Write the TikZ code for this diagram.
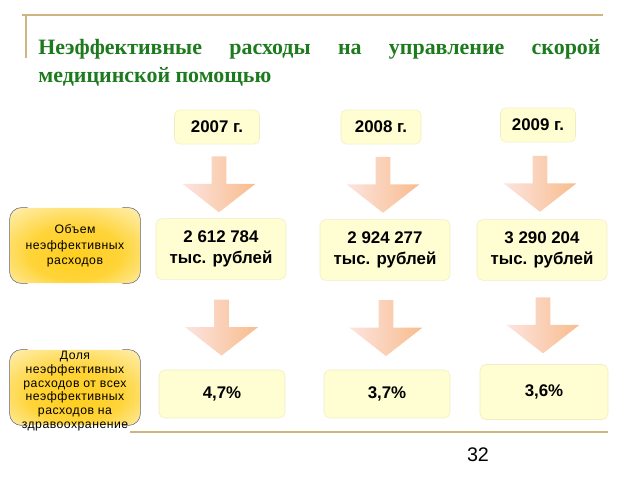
\documentclass[tikz,border=0pt]{standalone}
\usepackage{fontspec}
\setmainfont{Liberation Serif}
\setsansfont{Liberation Sans}
\newfontfamily\sidefont[LetterSpace=4]{Liberation Sans}
\usetikzlibrary{shapes.arrows,positioning,calc}
\definecolor{titlegreen}{RGB}{30,122,30}
\definecolor{rulegold}{RGB}{205,182,128}
\definecolor{boxfill}{RGB}{255,253,210}
\definecolor{boxedge}{RGB}{242,236,196}
\definecolor{arrowmid}{RGB}{244,156,92}
\definecolor{arrowleft}{RGB}{252,228,224}
\definecolor{arrowright}{RGB}{248,188,140}
\definecolor{sidemid}{RGB}{255,206,30}
\definecolor{sideout}{RGB}{255,246,210}
\pgfdeclareradialshading{sideglow}{\pgfpoint{0bp}{-8bp}}{color(0bp)=(sidemid); color(18bp)=(sidemid!85!sideout); color(42bp)=(sideout); color(50bp)=(sideout)}

\begin{document}
\begin{tikzpicture}[x=0.025cm,y=-0.025cm,semithick]
  \tikzstyle{rule}=[draw=rulegold,line width=1.3pt]
  \tikzstyle{yearbox}=[rounded corners=4pt,fill=boxfill,draw=boxedge,thin,font=\sffamily\bfseries\fontsize{12}{15}\selectfont,minimum height=0.86cm,align=center]
  \tikzstyle{sumbox}=[yearbox,minimum width=3.25cm,minimum height=1.52cm]
  \tikzstyle{sharebox}=[yearbox,minimum width=3.15cm,minimum height=1.2cm]
  \tikzstyle{downarrow}=[single arrow,shape border rotate=270,inner sep=0.175cm,minimum height=1.4cm,single arrow head extend=0.725cm,single arrow tip angle=104,left color=arrowleft,middle color=arrowmid,right color=arrowright]
  \tikzstyle{sidebox}=[rounded corners=0.3cm,shading=sideglow,minimum width=3.25cm,minimum height=1.875cm]
  \tikzstyle{sidetext}=[align=center,font=\sidefont\fontsize{8.7}{9.7}\selectfont,inner sep=0pt]
  \tikzstyle{bracket}=[draw=gray!75!black,thin,rounded corners=0.3cm]
\useasboundingbox (0,0) rectangle (640,480);
% title and rules
\draw[rule] (22,15) -- (603,15);
\draw[rule,line width=0.8pt] (26,15) -- (26,58);
\node[anchor=north west,inner sep=0pt,align=left,text=titlegreen,font=\rmfamily\bfseries\fontsize{15.6}{19.5}\selectfont] (title) at (38,39)
  {\makebox[14.05cm][s]{Неэффективные расходы на управление скорой}\\медицинской помощью};
\draw[rule] (130,432) -- (608,432);
% left captions
\node[sidebox] (vol) at (75,245.5) {};
\node[sidetext,font=\sidefont\fontsize{8.7}{11}\selectfont] (voltxt) at (75,246) {Объем\\неэффективных\\расходов};
\node[sidebox] (share) at (75,387.5) {};
\node[sidetext] (sharetxt) at (75,391) {Доля\\неэффективных\\расходов от всех\\неэффективных\\расходов на\\здравоохранение};
\foreach \b in {vol,share} {
  \draw[bracket] ([xshift=0.45cm]\b.north west) -- (\b.north west) -- (\b.south west) -- ([xshift=0.45cm]\b.south west);
  \draw[bracket] ([xshift=-0.45cm]\b.north east) -- (\b.north east) -- (\b.south east) -- ([xshift=-0.45cm]\b.south east);
}
% years
\node[yearbox,minimum width=2.125cm] (y07) at (217,127) {2007 г.};
\node[yearbox,minimum width=2cm] (y08) at (381,127) {2008 г.};
\node[yearbox,minimum width=1.875cm] (y09) at (538,125) {2009 г.};
% sums
\node[sumbox] (s07) at (221,249) {2 612 784\\тыс. рублей};
\node[sumbox] (s08) at (385,250) {2 924 277\\тыс. рублей};
\node[sumbox] (s09) at (542,250) {3 290 204\\тыс. рублей};
% shares
\node[sharebox] (p07) at (222,394) {4,7\%};
\node[sharebox] (p08) at (387,394) {3,7\%};
\node[sharebox,minimum width=3.2cm,minimum height=1.375cm] (p09) at (544,392) {3,6\%};
% arrows
\node[downarrow] (a07) at ($(y07.south)!0.5!(s07.north)$) {};
\node[downarrow] (a08) at ($(y08.south)!0.5!(s08.north)$) {};
\node[downarrow] (a09) at ($(y09.south)!0.5!(s09.north)$) {};
\node[downarrow] (b07) at ($(s07.south)!0.5!(p07.north)$) {};
\node[downarrow] (b08) at ($(s08.south)!0.5!(p08.north)$) {};
\node[downarrow] (b09) at ($(s09.south)!0.5!(p09.north)$) {};
\node[font=\sffamily\fontsize{14}{16}\selectfont] (page) at (478,455) {32};
\end{tikzpicture}
\end{document}
